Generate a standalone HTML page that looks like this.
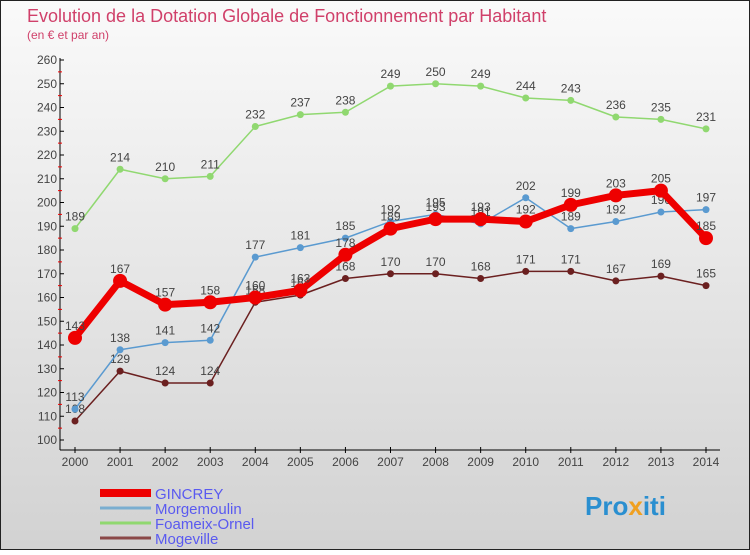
<!DOCTYPE html>
<html><head><meta charset="utf-8"><style>
body{margin:0;width:750px;height:550px;overflow:hidden;font-family:"Liberation Sans",sans-serif}
svg text{font-family:"Liberation Sans",sans-serif}
</style></head><body>
<svg id="c" width="750" height="550" xmlns="http://www.w3.org/2000/svg">
<defs><linearGradient id="bg" x1="0" y1="0" x2="0" y2="1"><stop offset="0" stop-color="#fafafa"/><stop offset="1" stop-color="#d2d2d2"/></linearGradient></defs>
<rect x="0.5" y="0.5" width="749" height="549" fill="url(#bg)" stroke="#222"/>
<text x="27" y="22" font-size="18" fill="#d0406a">Evolution de la Dotation Globale de Fonctionnement par Habitant</text>
<text x="27" y="39" font-size="12" fill="#d0406a">(en € et par an)</text>
<g id="axes"></g><g id="series"></g><g id="legend"></g>
<text x="585" y="515" font-size="26" font-weight="bold" fill="#2a8fd0">Pro<tspan fill="#f0a020">x</tspan>iti</text>
</svg>
<script>
const years=[2000,2001,2002,2003,2004,2005,2006,2007,2008,2009,2010,2011,2012,2013,2014];
const yTicks=[100,110,120,130,140,150,160,170,180,190,200,210,220,230,240,250,260];
const gincrey=[143,167,157,158,160,163,178,189,193,193,192,199,203,205,185];
const morgemoulin=[113,138,141,142,177,181,185,192,195,191,202,189,192,196,197];
const foameix=[189,214,210,211,232,237,238,249,250,249,244,243,236,235,231];
const mogeville=[108,129,124,124,158,161,168,170,170,168,171,171,167,169,165];
const NS="http://www.w3.org/2000/svg";
const xs=i=>75+i*(706-75)/(years.length-1);
const ys=v=>440-(v-100)*380/160;
function mk(t,a,p){const e=document.createElementNS(NS,t);for(const k in a)e.setAttribute(k,a[k]);p.appendChild(e);return e;}
const ax=document.getElementById('axes');
let l=mk('line',{x1:60,y1:58,x2:60,y2:450,stroke:'#000'},ax);


l=mk('line',{x1:60,y1:450,x2:720,y2:450,stroke:'#000'},ax);


yTicks.forEach((v,i)=>{const y=ys(v);mk('line',{x1:60,y1:y,x2:64,y2:y,stroke:'#000'},ax);
if(i<yTicks.length-1)mk('line',{x1:58,y1:ys(v+5),x2:62,y2:ys(v+5),stroke:'#e00'},ax);
const t=mk('text',{x:57,y:y+4,'font-size':12,fill:'#444','text-anchor':'end'},ax);t.textContent=v;

});
years.forEach((yr,i)=>{const x=xs(i);mk('line',{x1:x,y1:447,x2:x,y2:453,stroke:'#000'},ax);
const t=mk('text',{x:x,y:466,'font-size':12,fill:'#444','text-anchor':'middle'},ax);t.textContent=yr;

});
const S=document.getElementById('series');
const defs=[['mogeville',mogeville,'#6b2020',1.5,3.5],['foameix-ornel',foameix,'#90d870',1.5,3.5],['morgemoulin',morgemoulin,'#5a9ad0',1.5,3.5],['gincrey',gincrey,'#ee0000',7,7]];
defs.forEach(([n,d,c,w,r])=>{const g=mk('g',{},S);


const p=mk('polyline',{points:d.map((v,i)=>xs(i)+','+ys(v)).join(' '),fill:'none',stroke:c,'stroke-width':w,'stroke-linejoin':'round'},g);


d.forEach((v,i)=>{const cc=mk('circle',{cx:xs(i),cy:ys(v),r:r,fill:c},g);


const t=mk('text',{x:xs(i),y:ys(v)-8,'font-size':12,fill:'#444','text-anchor':'middle'},g);t.textContent=v;

});});
const L=document.getElementById('legend');
[['GINCREY','#ee0000',8],['Morgemoulin','#7aaed0',3],['Foameix-Ornel','#90d870',3],['Mogeville','#8a4848',3]].forEach(([n,c,w],i)=>{const y=493+i*15;
const g=mk('g',{},L);


mk('line',{x1:100,y1:y,x2:151,y2:y,stroke:c,'stroke-width':w},g);
const t=mk('text',{x:155,y:y+6,'font-size':15,fill:'#5a5af0'},g);t.textContent=n;});
</script>
</body></html>
